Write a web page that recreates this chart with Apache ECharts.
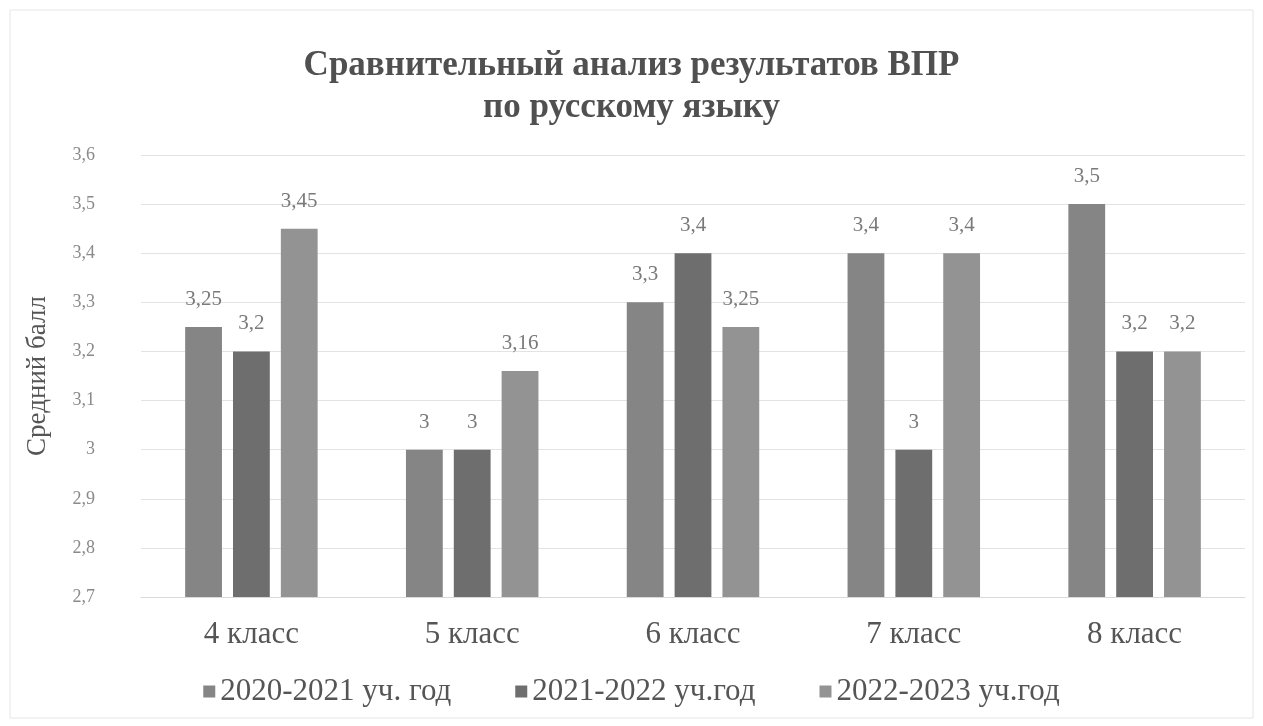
<!DOCTYPE html>
<html><head><meta charset="utf-8">
<script src="https://cdn.jsdelivr.net/npm/echarts@6/dist/echarts.min.js"></script>
<style>html,body{margin:0;padding:0;background:#fff}#c{width:1263px;height:726px}</style>
</head><body><div id="c"></div>
<script>
var categories = ['4 класс','5 класс','6 класс','7 класс','8 класс'];
var seriesNames = ['2020-2021 уч. год','2021-2022 уч.год','2022-2023 уч.год'];
var s2020 = [3.25, 3, 3.3, 3.4, 3.5];
var s2021 = [3.2, 3, 3.4, 3, 3.2];
var s2022 = [3.45, 3.16, 3.25, 3.4, 3.2];
var colors = ['#858585','#6e6e6e','#939393'];
var FONT = '"Liberation Serif","DejaVu Serif",serif';
function fmt(v){ return String(Math.round(v*100)/100).replace('.', ','); }
var chart = echarts.init(document.getElementById('c'));
function mk(name, data, i){
  return {name:name, type:'bar', data:data, barGap:'30%', barCategoryGap:'40%',
    itemStyle:{color:colors[i]},
    label:{show:true, position:'top', distance:17, color:'#7a7a7a', fontFamily:FONT, fontSize:21,
      formatter:function(p){return fmt(p.value);}}};
}
chart.setOption({
  animation:false,
  textStyle:{fontFamily:FONT},
  graphic:[{type:'rect', shape:{x:10,y:10,width:1243,height:708}, style:{fill:'none', stroke:'#e6e6e6', lineWidth:1}}],
  title:{text:'Сравнительный анализ результатов ВПР\nпо русскому языку', left:'center', top:40,
    textStyle:{fontFamily:FONT, fontSize:35, fontWeight:'bold', color:'#505050', lineHeight:42}},
  grid:{left:141, right:18, top:155, bottom:129},
  legend:{bottom:14, left:'center', itemWidth:12, itemHeight:12, itemGap:64, icon:'rect',
    textStyle:{fontFamily:FONT, fontSize:31, color:'#555'}},
  xAxis:{type:'category', data:categories,
    axisLine:{lineStyle:{color:'#d9d9d9'}}, axisTick:{show:false},
    axisLabel:{fontFamily:FONT, fontSize:31, color:'#555', margin:22}},
  yAxis:{type:'value', min:2.7, max:3.6, interval:0.1,
    name:'Средний балл', nameLocation:'middle', nameGap:90, nameRotate:90,
    nameTextStyle:{fontFamily:FONT, fontSize:27, color:'#555'},
    axisLine:{show:false}, axisTick:{show:false},
    splitLine:{lineStyle:{color:'#e3e3e3'}},
    axisLabel:{fontFamily:FONT, fontSize:18, color:'#8a8a8a', margin:46,
      formatter:function(v){return fmt(v);}}},
  series:[mk(seriesNames[0], s2020, 0), mk(seriesNames[1], s2021, 1), mk(seriesNames[2], s2022, 2)]
});
</script></body></html>
